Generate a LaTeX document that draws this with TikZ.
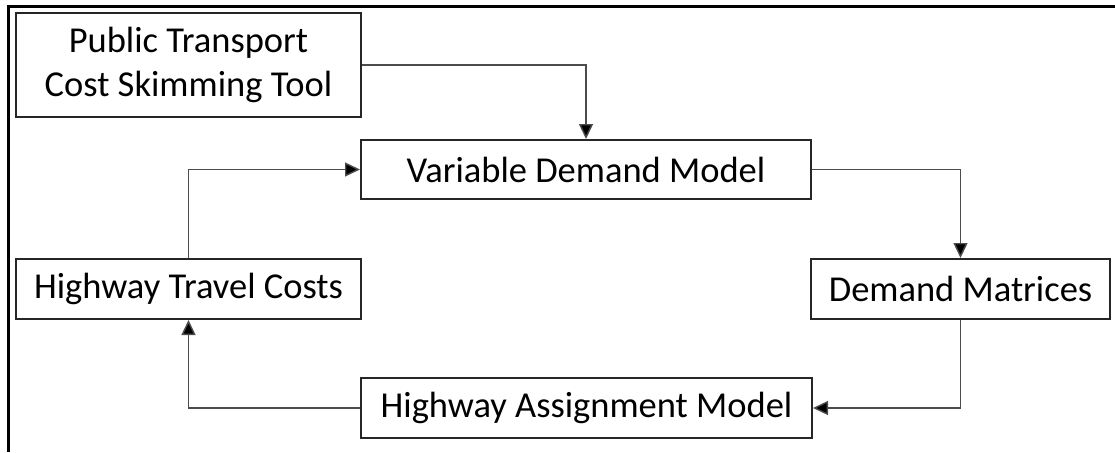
\documentclass[tikz,border=0pt]{standalone}
\usepackage{fontspec}
\setmainfont{Carlito}
\usetikzlibrary{arrows.meta}
\tikzset{
  box/.style={draw=black!85, line width=2pt, inner sep=0pt, align=center, font=\fontsize{36.5}{44}\selectfont},
  conn/.style={draw=black!70, line width=1.4pt, -{Triangle[length=15pt,width=14pt,fill=black]}},
}
\begin{document}
\begin{tikzpicture}[x=1pt,y=-1pt]
\useasboundingbox (0,0) rectangle (1115,452);
\draw[line width=3pt] (8,452) -- (8,7) -- (1115,7);
\node[box, minimum width=345pt, minimum height=104pt] (pt) at (188.5,65) {Public Transport\\Cost Skimming Tool};
\node[box, minimum width=450pt, minimum height=59pt] (vdm) at (586,169.5) {Variable Demand Model};
\node[box, minimum width=299pt, minimum height=60pt] (dm) at (960.5,289) {Demand Matrices};
\node[box, minimum width=345pt, minimum height=60pt] (htc) at (188.5,289) {Highway Travel Costs};
\node[box, minimum width=451pt, minimum height=60pt] (ham) at (586.5,408) {Highway Assignment Model};
\draw[conn] (pt.east) -| (vdm.north);
\draw[conn] (vdm.east) -| (dm.north);
\draw[conn] (dm.south) |- (ham.east);
\draw[conn] (ham.west) -| (htc.south);
\draw[conn] (htc.north) |- (vdm.west);
\end{tikzpicture}
\end{document}
